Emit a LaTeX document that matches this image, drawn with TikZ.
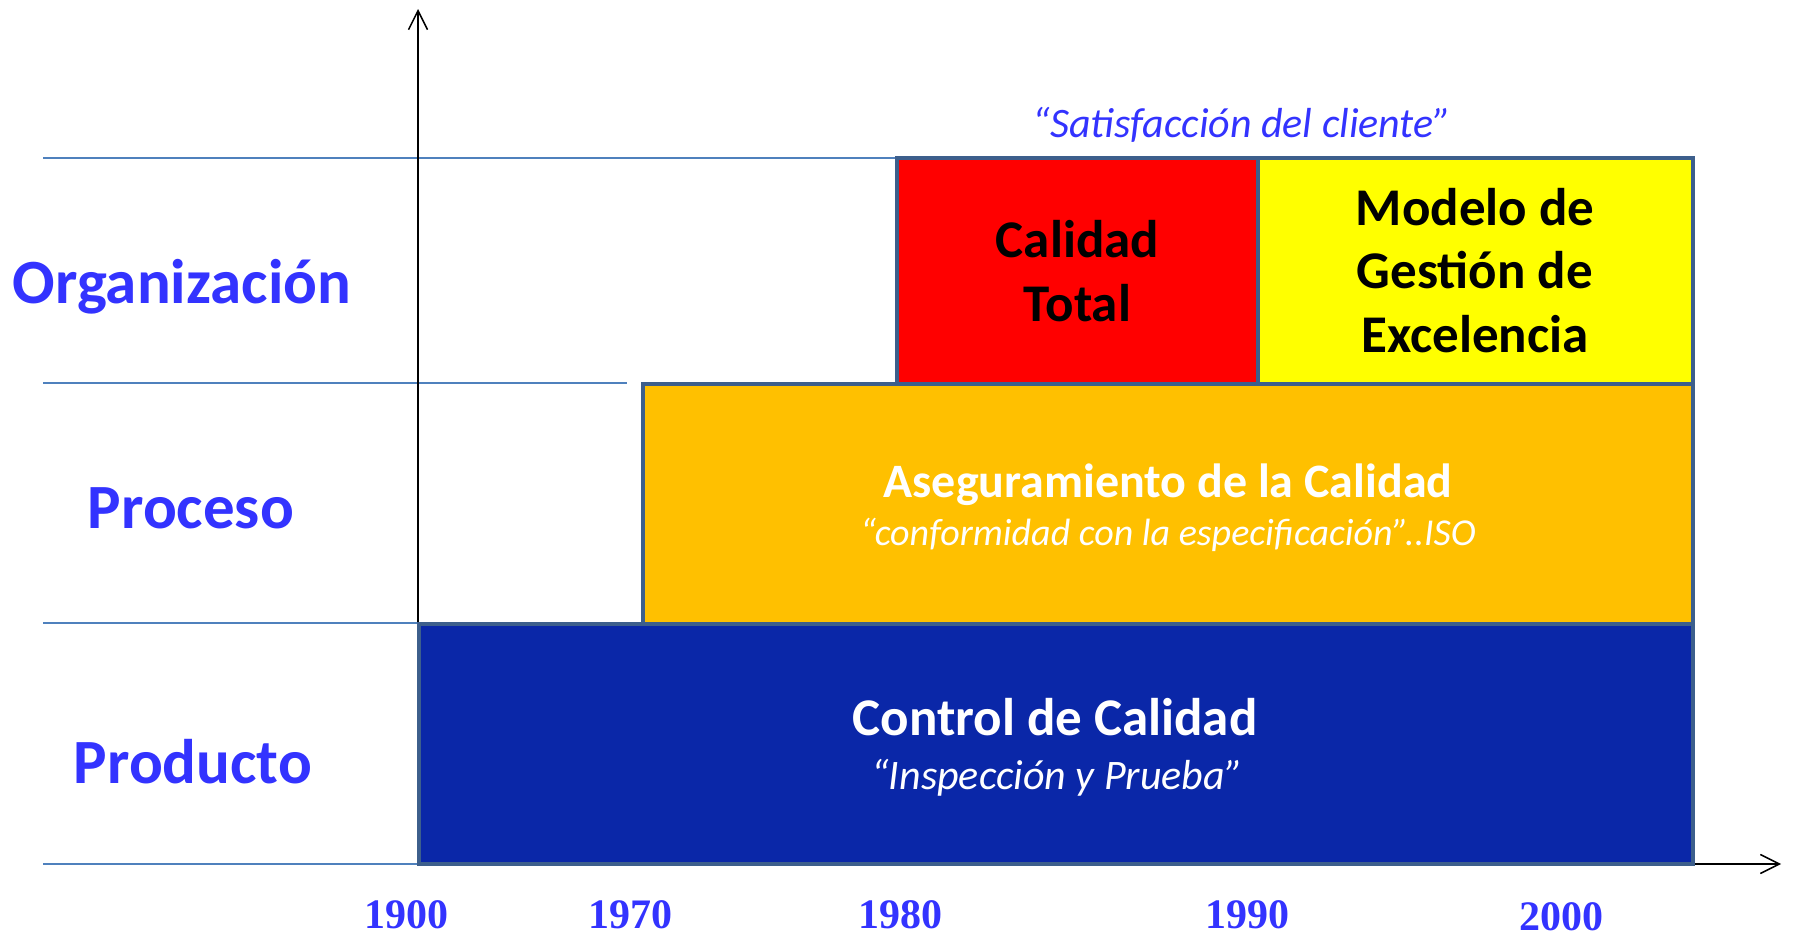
\documentclass[tikz,border=0pt]{standalone}
\usepackage{fontspec}
\setmainfont{Carlito}
\newfontfamily\yearfont{Liberation Serif}
\usetikzlibrary{arrows.meta}
\definecolor{lblue}{HTML}{3333FF}
\definecolor{guidecol}{HTML}{4F81BD}
\definecolor{bordercol}{HTML}{3D5F8C}
\definecolor{cblue}{HTML}{0A27A8}
\definecolor{corange}{HTML}{FFC000}
\definecolor{cred}{HTML}{FF0000}
\definecolor{cyellow}{HTML}{FFFF00}
\begin{document}
\begin{tikzpicture}[x=0.5pt,y=-0.5pt,
  guide/.style={draw=guidecol, line width=1pt},
  axisline/.style={draw=black, line width=0.75pt, -{Straight Barb[length=9.5pt,width=9.5pt,line width=0.75pt]}},
  box/.style={draw=bordercol, line width=2.25pt, inner sep=0pt, outer sep=0pt, anchor=north west},
  lbl/.style={text=lblue, font=\fontsize{31.5}{36}\selectfont\bfseries, anchor=base, inner sep=0pt},
  boxtitle/.style={font=\fontsize{26.5}{32}\selectfont\bfseries, anchor=base, inner sep=0pt},
  boxsub/.style={font=\fontsize{21}{25}\selectfont\itshape, anchor=base, inner sep=0pt},
  year/.style={text=lblue, font=\fontsize{21}{25}\selectfont\yearfont\bfseries, anchor=base, inner sep=0pt}
]
\useasboundingbox (0,0) rectangle (1794,937);
% guide lines
\coordinate (g1a) at (43,158); \coordinate (g1b) at (897,158);
\coordinate (g2a) at (43,383); \coordinate (g2b) at (627,383);
\coordinate (g3a) at (43,623); \coordinate (g3b) at (418,623);
\coordinate (g4a) at (43,864); \coordinate (g4b) at (418,864);
\draw[guide] (g1a) -- (g1b);
\draw[guide] (g2a) -- (g2b);
\draw[guide] (g3a) -- (g3b);
\draw[guide] (g4a) -- (g4b);
% axes
\coordinate (origin) at (418,864);
\coordinate (ytop) at (418,9);
\coordinate (xend) at (1781,864);
\draw[axisline] (origin) -- (ytop);
\draw[axisline] (origin) -- (xend);
% boxes
\node[box, fill=corange, minimum width=525pt, minimum height=120pt] (aseg) at (643,384) {};
\node[box, fill=cblue, minimum width=637pt, minimum height=120pt] (ctrl) at (419,624) {};
\node[box, fill=cred, minimum width=180.5pt, minimum height=113pt] (total) at (897,158) {};
\node[box, fill=cyellow, minimum width=217.5pt, minimum height=113pt] (model) at (1258,158) {};
% row labels
\node[lbl] (lorg) at (182,303) {Organización};
\node[lbl] (lpro) at (191,528) {Proceso};
\node[lbl] (lprod) at (193,783) {Producto};
% texts in boxes
\node[boxsub, text=lblue] (satis) at (1242,137) {“Satisfacción del cliente”};
\node[boxtitle] (t1) at (1077.5,257) {Calidad};
\node[boxtitle] (t2) at (1077.5,321) {Total};
\node[boxtitle] (m1) at (1475,225) {Modelo de};
\node[boxtitle] (m2) at (1475,288) {Gestión de};
\node[boxtitle] (m3) at (1475,352) {Excelencia};
\node[boxtitle, text=white, font=\fontsize{24}{28}\selectfont\bfseries] (a1) at (1168,497) {Aseguramiento de la Calidad};
\node[boxsub, text=white, font=\fontsize{19}{23}\selectfont\itshape] (a2) at (1168,545) {“conformidad con la especificación”..ISO};
\node[boxtitle, text=white] (c1) at (1055,735) {Control de Calidad};
\node[boxsub, text=white] (c2) at (1057,789) {“Inspección y Prueba”};
% years
\node[year] (y1900) at (406,928) {1900};
\node[year] (y1970) at (630.5,928) {1970};
\node[year] (y1980) at (900,928) {1980};
\node[year] (y1990) at (1247,928) {1990};
\node[year] (y2000) at (1561,930) {2000};
\end{tikzpicture}
\end{document}
